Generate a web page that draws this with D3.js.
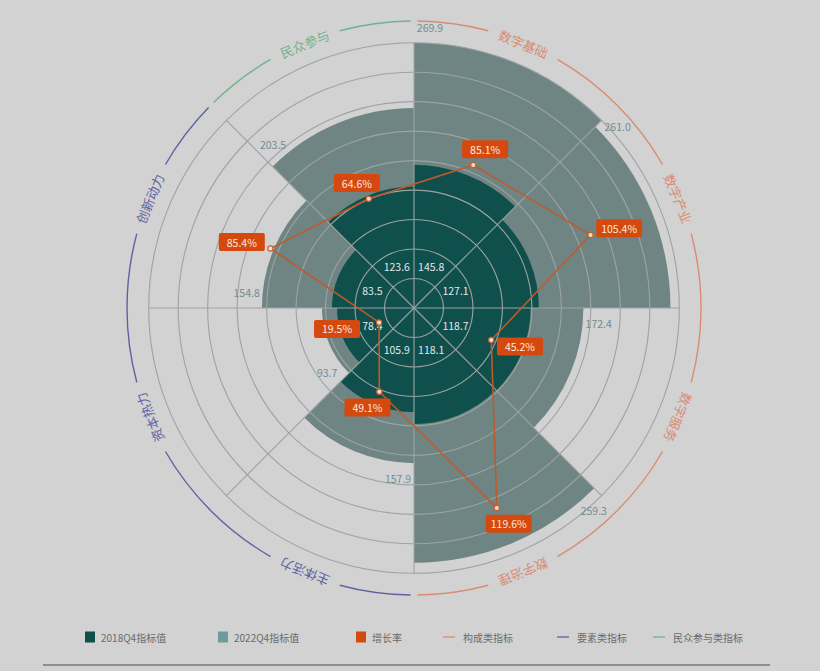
<!DOCTYPE html>
<html>
<head>
<meta charset="utf-8">
<script src="https://cdn.jsdelivr.net/npm/d3@7"></script>
<style>
  html, body { margin: 0; padding: 0; background: #d2d2d2; }
  svg { display: block; }
  text { font-family: "Noto Sans CJK SC", "Noto Sans", sans-serif; }
</style>
</head>
<body>
<div id="c1"></div>
<script>
// Data
var categories = ["数字基础", "数字产业", "数字服务", "数字治理", "主体活力", "资本热力", "创新动力", "民众参与"];
var values2018 = [145.8, 127.1, 118.7, 118.1, 105.9, 78.4, 83.5, 123.6];
var values2022 = [269.9, 261.0, 172.4, 259.3, 157.9, 93.7, 154.8, 203.5];
var growthRate = [85.1, 105.4, 45.2, 119.6, 49.1, 19.5, 85.4, 64.6];
var categoryGroup = [0, 0, 0, 0, 1, 1, 1, 2];
var groupNames = ["构成类指标", "要素类指标", "民众参与类指标"];
var seriesNames = ["2018Q4指标值", "2022Q4指标值", "增长率"];
var gridTicks = [30, 60, 90, 120, 150, 180, 210, 240, 270];

// Layout
var w = 820, h = 671;
var cx = 414, cy = 308;
var maxR = 265.3;
var ringR = 287;

var colDark = "#0f4f4c";
var colLight = "#6f8584";
var colLegendLight = "#6e9a9b";
var colOrange = "#d5490f";
var groupColors = ["#d98c72", "#5f62a3", "#6fb48e"];

var svg = d3.select("#c1").append("svg")
    .attr("width", w)
    .attr("height", h);

svg.append("rect").attr("width", w).attr("height", h).attr("fill", "#d2d2d2");

var g = svg.append("g").attr("transform", "translate(" + cx + "," + cy + ")");

var rScale = d3.scaleLinear().domain([0, 270]).range([0, maxR]);
var gScale = d3.scaleLinear().domain([0, 147]).range([3, maxR]);
var step = 2 * Math.PI / categories.length;
var deg = 180 / Math.PI;

function px(r, a) { return r * Math.sin(a); }
function py(r, a) { return -r * Math.cos(a); }

var arc = d3.arc()
    .innerRadius(0)
    .outerRadius(function (d) { return rScale(d.v); })
    .startAngle(function (d) { return d.i * step; })
    .endAngle(function (d) { return (d.i + 1) * step; });

// 2022 bars
g.selectAll("path.b2022")
    .data(values2022.map(function (v, i) { return { v: v, i: i }; }))
    .enter().append("path")
    .attr("class", "b2022")
    .attr("d", arc)
    .attr("fill", colLight);

// 2018 bars
g.selectAll("path.b2018")
    .data(values2018.map(function (v, i) { return { v: v, i: i }; }))
    .enter().append("path")
    .attr("class", "b2018")
    .attr("d", arc)
    .attr("fill", colDark);

// Grid circles
g.selectAll("circle.grid")
    .data(gridTicks)
    .enter().append("circle")
    .attr("class", "grid")
    .attr("r", function (d) { return rScale(d); })
    .attr("fill", "none")
    .attr("stroke", "#9da3a3")
    .attr("stroke-width", 1.1);

// Spokes
g.selectAll("line.spoke")
    .data(categories)
    .enter().append("line")
    .attr("class", "spoke")
    .attr("x1", 0).attr("y1", 0)
    .attr("x2", function (d, i) { return px(rScale(270), i * step); })
    .attr("y2", function (d, i) { return py(rScale(270), i * step); })
    .attr("stroke", "#9da3a3")
    .attr("stroke-width", 1.1);

// Outer group arcs, broken around the category labels
var gap = 7.5 / deg, pad = 0.7 / deg;
var ringSegs = [];
categories.forEach(function (c, i) {
    var s = i * step, e = (i + 1) * step, m = s + step / 2;
    var first = i == 0 || categoryGroup[i - 1] != categoryGroup[i];
    var last = i == categories.length - 1 || categoryGroup[i + 1] != categoryGroup[i];
    ringSegs.push({ a0: s + (first ? pad : 0), a1: m - gap, grp: categoryGroup[i] });
    ringSegs.push({ a0: m + gap, a1: e - (last ? pad : 0), grp: categoryGroup[i] });
});
var ringArc = d3.arc()
    .innerRadius(ringR).outerRadius(ringR)
    .startAngle(function (d) { return d.a0; })
    .endAngle(function (d) { return d.a1; });
g.selectAll("path.ring")
    .data(ringSegs)
    .enter().append("path")
    .attr("class", "ring")
    .attr("d", ringArc)
    .attr("fill", "none")
    .attr("stroke", function (d) { return groupColors[d.grp]; })
    .attr("stroke-width", 1.4);

// Category labels
g.selectAll("text.cat")
    .data(categories)
    .enter().append("text")
    .attr("class", "cat")
    .attr("transform", function (d, i) {
        var a = (i + 0.5) * step;
        return "translate(" + px(ringR - 1, a) + "," + py(ringR - 1, a) + ") rotate(" + (a * deg) + ")";
    })
    .attr("text-anchor", "middle")
    .attr("dominant-baseline", "central")
    .attr("font-size", 13)
    .attr("fill", function (d, i) { return groupColors[categoryGroup[i]]; })
    .text(function (d) { return d; });

// 2018 value labels
g.selectAll("text.v2018")
    .data(values2018)
    .enter().append("text")
    .attr("class", "v2018")
    .attr("x", function (d, i) { return px(45, (i + 0.5) * step); })
    .attr("y", function (d, i) { return py(45, (i + 0.5) * step); })
    .attr("text-anchor", "middle")
    .attr("dominant-baseline", "central")
    .attr("font-size", 10.5)
    .attr("fill", "#e2e8e8")
    .text(function (d) { return d.toFixed(1); });

// 2022 value labels, near the start corner of each bar
g.selectAll("text.v2022")
    .data(values2022)
    .enter().append("text")
    .attr("class", "v2022")
    .attr("x", function (d, i) {
        var r = rScale(d) + 16;
        return px(r, i * step + 16 / r);
    })
    .attr("y", function (d, i) {
        var r = rScale(d) + 16;
        return py(r, i * step + 16 / r);
    })
    .attr("text-anchor", "middle")
    .attr("dominant-baseline", "central")
    .attr("font-size", 10.5)
    .attr("fill", "#6f8d93")
    .text(function (d) { return d.toFixed(1); });

// Growth rate line
var growthPts = growthRate.map(function (v, i) {
    var a = (i + 0.5) * step;
    return { v: v, a: a, r: gScale(v), x: px(gScale(v), a), y: py(gScale(v), a) };
});
var line = d3.line()
    .x(function (d) { return d.x; })
    .y(function (d) { return d.y; })
    .curve(d3.curveLinearClosed);
g.append("path")
    .datum(growthPts)
    .attr("d", line)
    .attr("fill", "none")
    .attr("stroke", "#bf5a2c")
    .attr("stroke-width", 1.6);

g.selectAll("circle.gp")
    .data(growthPts)
    .enter().append("circle")
    .attr("class", "gp")
    .attr("cx", function (d) { return d.x; })
    .attr("cy", function (d) { return d.y; })
    .attr("r", 2.6)
    .attr("fill", "#f6dccd")
    .attr("stroke", "#c8602f")
    .attr("stroke-width", 1.2);

// Growth labels, pushed further out when the point sits among the inner labels
var boxW = 46, boxH = 18;
var gl = g.selectAll("g.gl")
    .data(growthPts)
    .enter().append("g")
    .attr("class", "gl")
    .attr("transform", function (d) {
        var extra = Math.max(0, 62 - d.r) * 0.6;
        var ox = Math.sin(d.a) * (31 + extra), oy = -Math.cos(d.a) * 17;
        return "translate(" + (d.x + ox) + "," + (d.y + oy) + ")";
    });
gl.append("rect")
    .attr("x", -boxW / 2).attr("y", -boxH / 2)
    .attr("width", boxW).attr("height", boxH)
    .attr("rx", 2)
    .attr("fill", colOrange);
gl.append("text")
    .attr("text-anchor", "middle")
    .attr("dominant-baseline", "central")
    .attr("font-size", 10.5)
    .attr("fill", "#fbe9df")
    .text(function (d) { return d.v.toFixed(1) + "%"; });

// Legend
var legendY = 637;
var legendItems = [
    { name: seriesNames[0], type: "rect", color: colDark, x: 85 },
    { name: seriesNames[1], type: "rect", color: colLegendLight, x: 218 },
    { name: seriesNames[2], type: "rect", color: colOrange, x: 356 },
    { name: groupNames[0], type: "line", color: groupColors[0], x: 443 },
    { name: groupNames[1], type: "line", color: groupColors[1], x: 557 },
    { name: groupNames[2], type: "line", color: groupColors[2], x: 653 }
];
var lg = svg.selectAll("g.legend")
    .data(legendItems)
    .enter().append("g")
    .attr("class", "legend")
    .attr("transform", function (d) { return "translate(" + d.x + "," + legendY + ")"; });
lg.filter(function (d) { return d.type == "rect"; })
    .append("rect")
    .attr("x", 0).attr("y", -5.5)
    .attr("width", 10).attr("height", 11)
    .attr("fill", function (d) { return d.color; });
lg.filter(function (d) { return d.type == "line"; })
    .append("line")
    .attr("x1", 0).attr("x2", 12)
    .attr("y1", 0).attr("y2", 0)
    .attr("stroke", function (d) { return d.color; })
    .attr("stroke-width", 1.3);
lg.append("text")
    .attr("x", function (d) { return d.type == "rect" ? 16 : 20; })
    .attr("y", 0)
    .attr("dominant-baseline", "central")
    .attr("font-size", 10)
    .attr("fill", "#6a6a6a")
    .text(function (d) { return d.name; });

// Bottom rule
svg.append("line")
    .attr("x1", 43).attr("x2", 770)
    .attr("y1", 665).attr("y2", 665)
    .attr("stroke", "#4a4a4a")
    .attr("stroke-width", 1.2);
</script>
</body>
</html>
